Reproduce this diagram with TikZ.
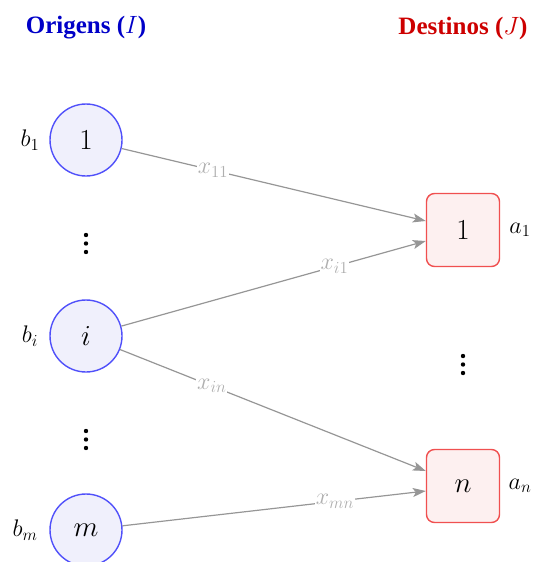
\RequirePackage{fix-cm}
\documentclass[tikz,border=0pt]{standalone}
\usepackage{fontspec}
\setmainfont{Liberation Serif}
\usetikzlibrary{arrows.meta}
\definecolor{origblue}{RGB}{0,0,200}
\definecolor{circstroke}{RGB}{80,80,250}
\definecolor{circfill}{RGB}{240,240,252}
\definecolor{destred}{RGB}{205,0,0}
\definecolor{sqstroke}{RGB}{240,80,80}
\definecolor{sqfill}{RGB}{253,240,240}
\definecolor{edgegray}{RGB}{150,150,150}
\definecolor{labgray}{RGB}{175,175,175}
\begin{document}
\begin{tikzpicture}[x=1pt,y=-1pt,
  orig/.style={circle,draw=circstroke,fill=circfill,line width=1.4pt,minimum size=72pt,inner sep=0pt,font=\fontsize{29}{32}\selectfont},
  dest/.style={rectangle,rounded corners=8pt,draw=sqstroke,fill=sqfill,line width=1.4pt,minimum size=73pt,inner sep=0pt,font=\fontsize{29}{32}\selectfont},
  side/.style={font=\fontsize{24}{28}\selectfont},
  title/.style={font=\fontsize{25}{28}\selectfont\bfseries},
  flow/.style={draw=edgegray,line width=1.2pt,-{Stealth[length=13pt,width=9pt,inset=3pt]}},
  flowlab/.style={fill=white,text=labgray,inner sep=1pt,font=\fontsize{24}{28}\selectfont},
  dot/.style={circle,fill=black,inner sep=0pt,minimum size=4.4pt}
]
\useasboundingbox (0,0) rectangle (533,562);
\node[title,text=origblue] (t1) at (86,28) {Origens ($I$)};
\node[title,text=destred] (t2) at (463,28) {Destinos ($J$)};

\node[orig] (o1) at (86,140) {$1$};
\node[orig] (oi) at (86,336) {$i$};
\node[orig] (om) at (86,530) {$m$};
\node[side] (b1) at (30,140) {$b_1$};
\node[side] (bi) at (30,336) {$b_i$};
\node[side] (bm) at (25,530) {$b_m$};
\foreach \y [count=\k] in {235,243.5,252} {\node[dot] (va\k) at (86,\y) {};}
\foreach \y [count=\k] in {431,439.5,448} {\node[dot] (vb\k) at (86,\y) {};}
\foreach \y [count=\k] in {356,364.5,373} {\node[dot] (vc\k) at (463,\y) {};}

\node[dest] (d1) at (463,230) {$1$};
\node[dest] (dn) at (463,486) {$n$};
\node[side] (a1) at (520,230) {$a_1$};
\node[side] (an) at (520,486) {$a_n$};

\coordinate (e11) at ([yshift=9pt]d1.west);
\coordinate (ei1) at ([yshift=-11pt]d1.west);
\coordinate (ein) at ([yshift=15pt]dn.west);
\coordinate (emn) at ([yshift=-5pt]dn.west);

\draw[flow] (o1) -- node[flowlab,pos=0.3] {$x_{11}$} (e11);
\draw[flow] (oi) -- node[flowlab,pos=0.7] {$x_{i1}$} (ei1);
\draw[flow] (oi) -- node[flowlab,pos=0.3] {$x_{in}$} (ein);
\draw[flow] (om) -- node[flowlab,pos=0.7] {$x_{mn}$} (emn);
\end{tikzpicture}
\end{document}
